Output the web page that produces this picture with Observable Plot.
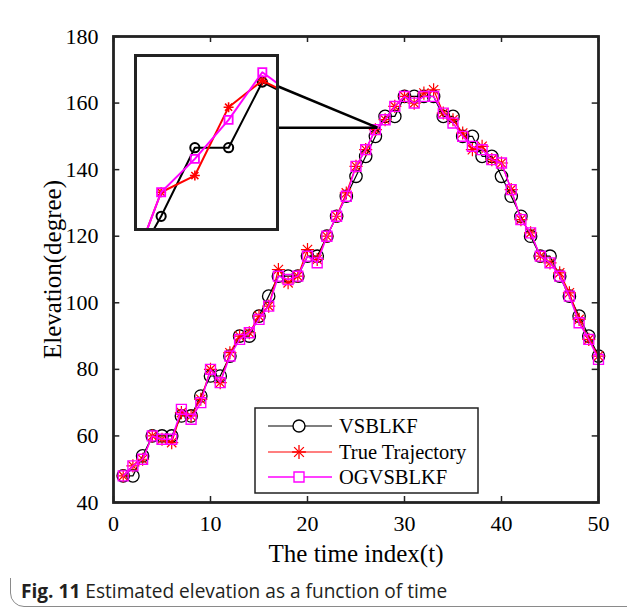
<!DOCTYPE html>
<html>
<head>
<meta charset="utf-8">
<script src="https://cdn.jsdelivr.net/npm/d3@7"></script>
<script src="https://cdn.jsdelivr.net/npm/@observablehq/plot@0.6"></script>
<style>
  html, body { margin: 0; padding: 0; background: white; overflow: hidden; width: 627px; height: 613px; }
  #wrap { position: relative; width: 627px; height: 613px; }
  #border { position: absolute; left: 10px; top: -30px; width: 680px; height: 637px; border: 1.5px solid #8a8a8a; border-radius: 14px; box-sizing: border-box; }
  #main { position: absolute; left: 0; top: 0; }
  #inset { position: absolute; left: 133px; top: 53px; }
  #caption { position: absolute; left: 21px; top: 578px; font-family: "Open Sans", sans-serif; font-size: 19.1px; color: #231f20; white-space: nowrap; }
</style>
</head>
<body>
<div id="wrap">
  <div id="border"></div>
  <div id="main"></div>
  <div id="inset"></div>
  <div id="caption"><b>Fig. 11</b> Estimated elevation as a function of time</div>
</div>
<script>
// ---- data ----
const timeIndex = [1,2,3,4,5,6,7,8,9,10,11,12,13,14,15,16,17,18,19,20,21,22,23,24,25,26,27,28,29,30,31,32,33,34,35,36,37,38,39,40,41,42,43,44,45,46,47,48,49,50];
const vsblkf = [48,48,54,60,60,60,66,66,72,78,78,84,90,90,96,102,108,108,108,114,114,120,126,132,138,144,150,156,156,162,162,162,162,156,156,150,150,144,144,138,132,126,120,114,114,108,102,96,90,84];
const trueTrajectory = [48,51,53,60,59,58,67,66,71,80,76,85,90,91,96,99,110,106,108,116,113,120,126,133,141,146,152,155,159,162,160,163,164,157,155,151,146,147,143,142,134,125,121,114,112,109,103,95,89,84];
const ogvsblkf = [48,51,53,60,59,59,68,65,70,80,76,84,89,91,95,99,108,107,108,114,112,120,126,132,141,146,152,155,159,162,160,162,162,157,154,150,147,146,143,142,134,125,121,114,112,108,102,94,89,83];

// inset (magnified view, its own units)
const insetIndex = [-1, 0, 1, 2, 3, 4];
const insetVsblkf = [-27, 7.6, 47, 47, 84.7, 75];
const insetTrue = [-30, 21.4, 31, 70.3, 85.6, 76];
const insetOg = [-30, 21.4, 40.6, 63, 90.4, 76];

const xTicks = [0,10,20,30,40,50];
const yTicks = [40,60,80,100,120,140,160,180];
const seriesNames = ["VSBLKF", "True Trajectory", "OGVSBLKF"];
const seriesColors = ["#000000", "#ff0000", "#ff00ff"];

const rows = (xs, ys) => xs.map((x, i) => ({x, y: ys[i]}));
const dV = rows(timeIndex, vsblkf);
const dT = rows(timeIndex, trueTrajectory);
const dO = rows(timeIndex, ogvsblkf);

// zoom connector annotation (data coordinates)
const connectors = [
  {x1: 16.8, y1: 165.2, x2: 27.2, y2: 152.6},
  {x1: 16.8, y1: 152.6, x2: 27.2, y2: 152.6}
];

const font = "Liberation Serif, Times New Roman, serif";

const main = Plot.plot({
  width: 627, height: 578,
  marginLeft: 113, marginRight: 29, marginTop: 36, marginBottom: 76,
  style: {fontFamily: font, fontSize: "22px", color: "black", background: "white"},
  x: {domain: [0, 50], ticks: xTicks},
  y: {domain: [40, 180], ticks: yTicks},
  marks: [
    Plot.line(dV, {x: "x", y: "y", stroke: seriesColors[0], strokeWidth: 1.2}),
    Plot.dot(dV, {x: "x", y: "y", symbol: "circle", r: 6.2, stroke: seriesColors[0], fill: "none", strokeWidth: 1.3}),
    Plot.line(dT, {x: "x", y: "y", stroke: seriesColors[1], strokeWidth: 1.2}),
    Plot.dot(dT, {x: "x", y: "y", symbol: "plus", r: 4.3, stroke: seriesColors[1], strokeWidth: 1.2}),
    Plot.dot(dT, {x: "x", y: "y", symbol: "times", r: 4.3, stroke: seriesColors[1], strokeWidth: 1.2}),
    Plot.line(dO, {x: "x", y: "y", stroke: seriesColors[2], strokeWidth: 1.5}),
    Plot.dot(dO, {x: "x", y: "y", symbol: "square", r: 5.6, stroke: seriesColors[2], fill: "none", strokeWidth: 1.4}),
    Plot.link(connectors, {x1: "x1", y1: "y1", x2: "x2", y2: "y2", stroke: "black", strokeWidth: 2.5}),
    // inward ticks
    Plot.ruleX(xTicks, {x: d => d, y1: 40, y2: 41.8, stroke: "#222", strokeWidth: 1.5}),
    Plot.ruleX(xTicks, {x: d => d, y1: 178.2, y2: 180, stroke: "#222", strokeWidth: 1.5}),
    Plot.ruleY(yTicks, {y: d => d, x1: 0, x2: 0.65, stroke: "#222", strokeWidth: 1.5}),
    Plot.ruleY(yTicks, {y: d => d, x1: 49.35, x2: 50, stroke: "#222", strokeWidth: 1.5}),
    Plot.frame({stroke: "#222", strokeWidth: 2.8}),
    Plot.axisX({ticks: xTicks, tickSize: 0, tickPadding: 13, label: null, fill: "black"}),
    Plot.axisY({ticks: yTicks, tickSize: 0, tickPadding: 15, label: null, fill: "black"}),
    Plot.text(["The time index(t)"], {frameAnchor: "bottom", dy: 51, fontSize: 25, fill: "black", lineAnchor: "middle"}),
    Plot.text(["Elevation(degree)"], {frameAnchor: "left", dx: -61, rotate: -90, fontSize: 25, fill: "black", textAnchor: "middle", lineAnchor: "middle"})
  ]
});
document.getElementById("main").appendChild(main);

// ---- legend ----
const svg = d3.select(main);
const lg = svg.append("g").attr("font-family", font).attr("font-size", 20.5).attr("text-anchor", "start");
lg.append("rect").attr("x", 255).attr("y", 408).attr("width", 223).attr("height", 85)
  .attr("fill", "white").attr("stroke", "#222").attr("stroke-width", 1.5);
const rowY = [426, 452, 477];
const sym = [d3.symbolCircle, d3.symbolPlus, d3.symbolSquare];
seriesNames.forEach((name, i) => {
  const g = lg.append("g").attr("transform", `translate(0,${rowY[i]})`);
  g.append("line").attr("x1", 268).attr("x2", 332).attr("y1", 0).attr("y2", 0)
    .attr("stroke", seriesColors[i]).attr("stroke-width", i === 2 ? 1.5 : 1.2);
  if (i === 1) {
    g.append("path").attr("transform", "translate(299,0)").attr("d", d3.symbol(d3.symbolPlus, 64)())
      .attr("fill", "none").attr("stroke", seriesColors[i]).attr("stroke-width", 1.3);
    g.append("path").attr("transform", "translate(299,0)").attr("d", d3.symbol(d3.symbolTimes, 64)())
      .attr("fill", "none").attr("stroke", seriesColors[i]).attr("stroke-width", 1.3);
  } else {
    g.append("path").attr("transform", "translate(299,0)").attr("d", d3.symbol(sym[i], i === 0 ? 113 : 100)())
      .attr("fill", "white").attr("stroke", seriesColors[i]).attr("stroke-width", 1.4);
  }
  g.append("text").attr("x", 339).attr("y", 0).attr("dy", "0.35em").attr("fill", "black").attr("text-anchor", "start").text(name);
});

// ---- inset ----
const iV = rows(insetIndex, insetVsblkf);
const iT = rows(insetIndex, insetTrue);
const iO = rows(insetIndex, insetOg);
const inset = Plot.plot({
  width: 146, height: 178,
  marginLeft: 2, marginRight: 2, marginTop: 2, marginBottom: 2,
  style: {background: "white"},
  x: {domain: [-0.76, 3.45], axis: null},
  y: {domain: [0, 100], axis: null},
  marks: [
    Plot.line(iV, {x: "x", y: "y", stroke: seriesColors[0], strokeWidth: 2, clip: true}),
    Plot.dot(iV, {x: "x", y: "y", symbol: "circle", r: 4.6, stroke: seriesColors[0], fill: "none", strokeWidth: 2, clip: true}),
    Plot.line(iT, {x: "x", y: "y", stroke: seriesColors[1], strokeWidth: 2, clip: true}),
    Plot.dot(iT, {x: "x", y: "y", symbol: "plus", r: 3.3, stroke: seriesColors[1], strokeWidth: 1.6, clip: true}),
    Plot.dot(iT, {x: "x", y: "y", symbol: "times", r: 3.3, stroke: seriesColors[1], strokeWidth: 1.6, clip: true}),
    Plot.line(iO, {x: "x", y: "y", stroke: seriesColors[2], strokeWidth: 2, clip: true}),
    Plot.dot(iO, {x: "x", y: "y", symbol: "square", r: 4.6, stroke: seriesColors[2], fill: "none", strokeWidth: 1.8, clip: true}),
    Plot.frame({stroke: "#222", strokeWidth: 3})
  ]
});
document.getElementById("inset").appendChild(inset);
</script>
</body>
</html>
